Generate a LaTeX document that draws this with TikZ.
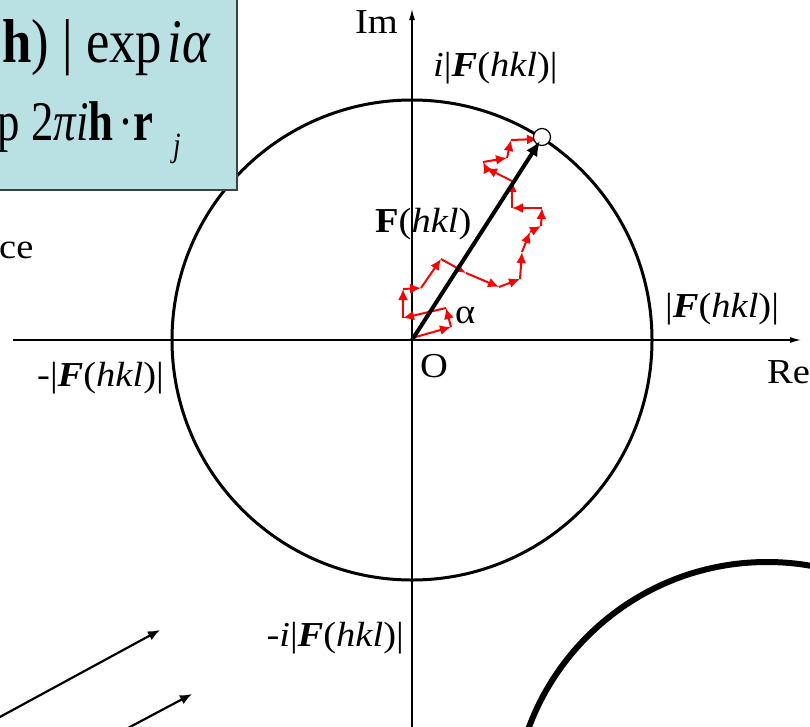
\documentclass[tikz,border=0pt]{standalone}
\usepackage{fontspec}
\setmainfont{Liberation Serif}
\usepackage{graphicx}
\usetikzlibrary{arrows.meta}
\definecolor{boxblue}{RGB}{185,224,227}
\definecolor{boxedge}{RGB}{64,64,64}
\newcommand{\hs}[1]{\scalebox{1.1}[1]{#1}}
\newcommand{\fs}[1]{\scalebox{0.85}[1]{#1}}
\newcommand{\fss}[1]{\scalebox{0.8}[1]{#1}}
\begin{document}
\begin{tikzpicture}[x=1pt,y=-1pt,
  lab/.style={inner sep=0pt, font=\fontsize{35}{42}\selectfont},
  walkarrow/.style={red, line width=2pt, -{Latex[length=11pt,width=10pt]}},
  axisarrow/.style={line width=1.3pt, -{Latex[length=11pt,width=6pt]}},
  thinarrow/.style={line width=2.2pt, -{Latex[length=12pt,width=10pt]}},
]
\useasboundingbox (0,0) rectangle (810,726);
\coordinate (O) at (412,340);
% axes
\coordinate (xl) at (13,340);
\coordinate (xr) at (801,340);
\coordinate (yb) at (412,730);
\coordinate (yt) at (412,9);
\draw[axisarrow] (xl) -- (xr);
\draw[axisarrow] (yb) -- (yt);
% circle
\draw[line width=3pt] (O) circle[radius=240];
% big partial circle bottom right
\draw[line width=6pt] (767,816) circle[radius=254];
% formula box
\draw[fill=boxblue, draw=boxedge, line width=1.5pt] (-5,-5) rectangle (237,190);
\node[anchor=base east, inner sep=0pt, font=\fontsize{62}{70}\selectfont] (f1) at (211,62)
  {\fs{\textbf{h})\hspace{0.25em}|\hspace{0.25em}exp\hspace{0.1em}\textit{iα}}};
\node[anchor=base east, inner sep=0pt, font=\fontsize{56}{64}\selectfont] (f2) at (181,140)
  {\fss{p\hspace{0.25em}2\textit{πi}\textbf{h}\hspace{0.1em}·\textbf{r}\hspace{0.45em}\raisebox{-0.3em}{\fontsize{34}{34}\selectfont\textit{j}}}};
% random walk
\coordinate (w0) at (412,338);
\coordinate (w1) at (451,327);
\coordinate (w2) at (446,308);
\coordinate (w3) at (403,318);
\coordinate (w4) at (403,289);
\coordinate (w5) at (421,288);
\coordinate (w6) at (441,259);
\coordinate (w7) at (466,273);
\coordinate (w8) at (499,287);
\coordinate (w9) at (520,279);
\coordinate (w10) at (522,252);
\coordinate (w11) at (530,232);
\coordinate (w12) at (541,226);
\coordinate (w13) at (542,208);
\coordinate (w14) at (512,208);
\coordinate (w15) at (512,181);
\coordinate (w16) at (486,168);
\coordinate (w17) at (483,162);
\coordinate (w18) at (507,158);
\coordinate (w19) at (511,140);
\coordinate (w20) at (538,139);
\foreach \a [evaluate=\a as \b using int(\a+1)] in {0,...,19}
  \draw[walkarrow] (w\a) -- (w\b);
% resultant vector
\coordinate (tip) at (540,141);
\node[circle, draw, fill=white, line width=1.2pt, minimum size=17pt, inner sep=0pt] (end) at (542,137) {};
\draw[line width=4pt, -{Latex[length=15pt,width=13pt]}] (O) -- (tip);
% labels
\node[lab, anchor=base east] (im) at (398,33) {\hs{Im}};
\node[lab, anchor=base west] (ilab) at (433,76) {\hs{\textit{i}|\textbf{\textit{F}}(\textit{hkl})|}};
\node[lab, anchor=base west] (flab) at (375,232) {\hs{\textbf{F}(\textit{hkl})}};
\node[lab, anchor=base west] (alab) at (455,323) {\hs{α}};
\node[lab, anchor=base west] (olab) at (420,377) {\hs{O}};
\node[lab, anchor=base west] (rlab) at (665,317) {\hs{|\textbf{\textit{F}}(\textit{hkl})|}};
\node[lab, anchor=base west] (re) at (767,383) {\hs{Re}};
\node[lab, anchor=base east] (nrlab) at (164,386) {\hs{-|\textbf{\textit{F}}(\textit{hkl})|}};
\node[lab, anchor=base east] (nilab) at (404,646) {\hs{-\textit{i}|\textbf{\textit{F}}(\textit{hkl})|}};
\node[lab, anchor=base west] (ce) at (-1,258) {\hs{ce}};
% bottom-left arrows
\coordinate (a1s) at (-2,718);
\coordinate (a1e) at (160,630);
\coordinate (a2s) at (128,728);
\coordinate (a2e) at (192,694);
\draw[thinarrow] (a1s) -- (a1e);
\draw[thinarrow] (a2s) -- (a2e);
\end{tikzpicture}
\end{document}
